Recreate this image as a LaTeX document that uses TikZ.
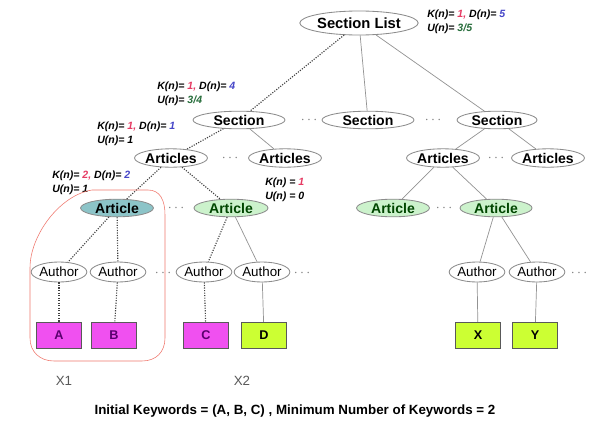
\documentclass[tikz,border=0pt]{standalone}
\usepackage{fontspec}
\setmainfont{Liberation Sans}
\usepackage{xcolor}
\usetikzlibrary{positioning, shapes.geometric}

\definecolor{kred}{RGB}{230,60,100}
\definecolor{dblue}{RGB}{70,70,200}
\definecolor{ugreen}{RGB}{40,110,60}
\definecolor{tealfill}{RGB}{140,196,200}
\definecolor{greenfill}{RGB}{204,242,204}
\definecolor{greentext}{RGB}{0,70,0}
\definecolor{magfill}{RGB}{240,80,240}
\definecolor{magtext}{RGB}{90,0,110}
\definecolor{limefill}{RGB}{204,255,51}
\definecolor{regionred}{RGB}{240,120,110}

\tikzset{
  elnode/.style={ellipse, draw=gray!90, line width=0.6pt, fill=white, inner sep=0pt, font=\bfseries\fontsize{10}{12}\selectfont},
  authnode/.style={ellipse, draw=gray!90, line width=0.6pt, fill=white, inner sep=0pt, minimum width=1.3cm, minimum height=0.5cm, font=\fontsize{9.5}{11}\selectfont},
  keybox/.style={rectangle, draw=gray!70!black, minimum width=1.12cm, minimum height=0.64cm, font=\bfseries\fontsize{9}{11}\selectfont},
  info/.style={anchor=north west, align=left, inner sep=0pt, font=\bfseries\itshape\fontsize{7.5}{9.5}\selectfont},
  etc/.style={text=gray, inner sep=0pt},
  plain/.style={gray!85, line width=0.5pt},
  hit/.style={black!75, densely dotted, thick}
}

\begin{document}
\begin{tikzpicture}[x=0.025cm, y=-0.025cm]
        \fill[white] (0,0) rectangle (589,427);
        \useasboundingbox (0,0) rectangle (589,427);
        % Tree
        \node[elnode, minimum width=2.9cm, minimum height=0.6cm, font=\bfseries\fontsize{10.5}{12}\selectfont] (seclist) at (359,23) {Section List};
        \node[elnode, minimum width=2.3cm, minimum height=0.44cm] (sec1) at (239,120) {Section};
        \node[elnode, minimum width=2.3cm, minimum height=0.44cm] (sec2) at (368,120) {Section};
        \node[elnode, minimum width=2.0cm, minimum height=0.44cm] (sec3) at (497,120) {Section};
        \node[etc] (dots1) at (309,120) {$\cdots$};
        \node[etc] (dots2) at (433,120) {$\cdots$};

        \node[elnode, minimum width=1.8cm, minimum height=0.46cm] (arts1) at (171,158) {Articles};
        \node[elnode, minimum width=1.8cm, minimum height=0.46cm] (arts2) at (285,158) {Articles};
        \node[elnode, minimum width=1.8cm, minimum height=0.46cm] (arts3) at (443,158) {Articles};
        \node[elnode, minimum width=1.8cm, minimum height=0.46cm] (arts4) at (548,158) {Articles};
        \node[etc] (dots3) at (230,158) {$\cdots$};
        \node[etc] (dots4) at (496,158) {$\cdots$};

        \node[elnode, fill=tealfill, minimum width=1.82cm, minimum height=0.44cm] (art1) at (117,208) {Article};
        \node[elnode, fill=greenfill, text=greentext, minimum width=1.85cm, minimum height=0.44cm] (art2) at (231,208) {Article};
        \node[elnode, fill=greenfill, text=greentext, minimum width=1.82cm, minimum height=0.44cm] (art3) at (393,208) {Article};
        \node[elnode, fill=greenfill, text=greentext, minimum width=1.8cm, minimum height=0.44cm] (art4) at (496,208) {Article};
        \node[etc] (dots5) at (176,208) {$\cdots$};
        \node[etc] (dots6) at (444,208) {$\cdots$};

        \node[authnode] (auth1) at (59,272) {Author};
        \node[authnode] (auth2) at (118,272) {Author};
        \node[authnode] (auth3) at (204,272) {Author};
        \node[authnode] (auth4) at (262,272) {Author};
        \node[authnode] (auth5) at (477,272) {Author};
        \node[authnode] (auth6) at (537,272) {Author};
        \node[etc] (dots7) at (163,273) {$\cdots$};
        \node[etc] (dots8) at (302,273) {$\cdots$};
        \node[etc] (dots9) at (579,273) {$\cdots$};

        \node[keybox, fill=magfill, text=magtext] (kwA) at (59,335) {A};
        \node[keybox, fill=magfill, text=magtext] (kwB) at (114,335) {B};
        \node[keybox, fill=magfill, text=magtext] (kwC) at (206,335) {C};
        \node[keybox, fill=limefill] (kwD) at (264,335) {D};
        \node[keybox, fill=limefill] (kwX) at (478,335) {X};
        \node[keybox, fill=limefill] (kwY) at (535,335) {Y};

        % Counters
        \node[info] (infoSL) at (427,10) {K(n)= \textcolor{kred}{1,} D(n)= \textcolor{dblue}{5}\\U(n)= \textcolor{ugreen}{3/5}};
        \node[info] (infoS1) at (157,82) {K(n)= \textcolor{kred}{1,} D(n)= \textcolor{dblue}{4}\\U(n)= \textcolor{ugreen}{3/4}};
        \node[info] (infoA1) at (97,122) {K(n)= \textcolor{kred}{1,} D(n)= \textcolor{dblue}{1}\\U(n)= 1};
        \node[info] (infoR1) at (52,171) {K(n)= \textcolor{kred}{2,} D(n)= \textcolor{dblue}{2}\\U(n)= 1};
        \node[info] (infoR2) at (265,178) {K(n) = \textcolor{kred}{1}\\U(n) = 0};

        % Edges
        \draw[hit] (seclist) -- (sec1);
        \draw[plain] (seclist) -- (sec2);
        \draw[plain] (seclist) -- (sec3);
        \draw[hit] (sec1) -- (arts1);
        \draw[plain] (sec1) -- (arts2);
        \draw[plain] (sec3) -- (arts3);
        \draw[plain] (sec3) -- (arts4);
        \draw[hit] (arts1) -- (art1);
        \draw[hit] (arts1) -- (art2);
        \draw[plain] (arts3) -- (art3);
        \draw[plain] (arts3) -- (art4);
        \draw[hit] (art1) -- (auth1);
        \draw[hit] (art1) -- (auth2);
        \draw[hit] (art2) -- (auth3);
        \draw[plain] (art2) -- (auth4);
        \draw[plain] (art4) -- (auth5);
        \draw[plain] (art4) -- (auth6);
        \draw[hit] (auth1) -- (kwA);
        \draw[hit] (auth2) -- (kwB);
        \draw[hit] (auth3) -- (kwC);
        \draw[plain] (auth4) -- (kwD);
        \draw[plain] (auth5) -- (kwX);
        \draw[plain] (auth6) -- (kwY);

        % Region around the first article
        \draw[regionred, thin] (92,190) -- (148,190) .. controls (160,190) and (165,200) .. (165,215)
            -- (165,338) .. controls (165,352) and (156,361) .. (142,361)
            -- (54,361) .. controls (40,361) and (30,352) .. (30,338)
            -- (30,268) .. controls (30,235) and (60,195) .. cycle;

        \node[text=gray!70!black, font=\fontsize{9.5}{11}\selectfont] (x1) at (64,381) {X1};
        \node[text=gray!70!black, font=\fontsize{9.5}{11}\selectfont] (x2) at (242,381) {X2};
        \node[font=\bfseries\fontsize{9.5}{11}\selectfont] (caption) at (295,411) {Initial Keywords = (A, B, C) , Minimum Number of Keywords = 2};
    \end{tikzpicture}
\end{document}
